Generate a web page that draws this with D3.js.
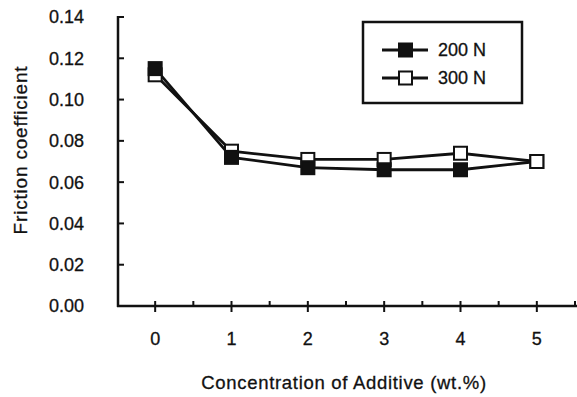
<!DOCTYPE html>
<html>
<head>
<meta charset="utf-8">
<script src="https://cdn.jsdelivr.net/npm/d3@7"></script>
<style>
  html, body { margin: 0; padding: 0; background: #fff; }
  text { font-family: "Liberation Sans", Arial, sans-serif; fill: #111; stroke: #111; stroke-width: 0.3px; }
</style>
</head>
<body>
<svg id="chart" width="577" height="397"></svg>
<script>
const concentrations = [0, 1, 2, 3, 4, 5];
const load200 = [0.115, 0.072, 0.067, 0.066, 0.066, 0.070];
const load300 = [0.112, 0.075, 0.071, 0.071, 0.074, 0.070];
const yTicks = [0, 0.02, 0.04, 0.06, 0.08, 0.10, 0.12, 0.14];
// which series' marker sits on top at each concentration
const frontSeries = ['200 N', '200 N', '200 N', '200 N', '200 N', '300 N'];

const svg = d3.select('#chart');

const x = d3.scaleLinear().domain([-0.5, 5.5]).range([117, 575]);
const y = d3.scaleLinear().domain([0, 0.14]).range([306, 17]);

// Y axis (ticks point inward)
const yAxis = svg.append('g').attr('transform', 'translate(118,0)');
yAxis.append('line')
  .attr('x1', 0).attr('x2', 0)
  .attr('y1', y(0.14) - 1).attr('y2', y(0) + 1)
  .attr('stroke', '#111').attr('stroke-width', 2.5);
yAxis.selectAll('.yt').data(yTicks).enter().append('line')
  .attr('x1', 0).attr('x2', 6)
  .attr('y1', d => y(d)).attr('y2', d => y(d))
  .attr('stroke', '#111').attr('stroke-width', 2);
svg.selectAll('.ylab').data(yTicks).enter().append('text')
  .attr('x', 84).attr('y', d => y(d))
  .attr('dy', '0.36em')
  .attr('text-anchor', 'end')
  .style('font-size', '18px')
  .text(d3.format('.2f'));

// X axis
const xAxis = svg.append('g').attr('transform', `translate(0,${y(0)})`);
xAxis.append('line')
  .attr('x1', 117).attr('x2', 577)
  .attr('y1', 0).attr('y2', 0)
  .attr('stroke', '#111').attr('stroke-width', 2.5);
xAxis.selectAll('.xt').data(concentrations).enter().append('line')
  .attr('x1', d => x(d)).attr('x2', d => x(d))
  .attr('y1', -5).attr('y2', 6)
  .attr('stroke', '#111').attr('stroke-width', 2);
xAxis.selectAll('.xm').data(d3.range(0.5, 6, 1)).enter().append('line')
  .attr('x1', d => x(d)).attr('x2', d => x(d))
  .attr('y1', -5).attr('y2', 0)
  .attr('stroke', '#111').attr('stroke-width', 2);
svg.selectAll('.xlab').data(concentrations).enter().append('text')
  .attr('x', d => x(d)).attr('y', 339)
  .attr('dy', '0.36em')
  .attr('text-anchor', 'middle')
  .style('font-size', '18px')
  .text(d => d);

// Axis titles
svg.append('text')
  .attr('transform', 'translate(20,150) rotate(-90)')
  .attr('text-anchor', 'middle')
  .attr('dy', '0.36em')
  .style('font-size', '19px')
  .style('letter-spacing', '0.8px')
  .text('Friction coefficient');
svg.append('text')
  .attr('x', 344).attr('y', 382)
  .attr('dy', '0.36em')
  .attr('text-anchor', 'middle')
  .style('font-size', '18.5px')
  .style('letter-spacing', '0.7px')
  .text('Concentration of Additive (wt.%)');

// Series
const series = [
  { name: '200 N', values: load200, fill: '#111' },
  { name: '300 N', values: load300, fill: '#fff' }
];

const line = d3.line()
  .x((d, i) => x(concentrations[i]))
  .y(d => y(d));

series.slice().reverse().forEach(s => {
  svg.append('path')
    .datum(s.values)
    .attr('fill', 'none')
    .attr('stroke', '#111')
    .attr('stroke-width', 2.8)
    .attr('d', line);
});

const markers = [];
series.forEach(s => s.values.forEach((v, i) => {
  markers.push({ i, v, fill: s.fill, front: frontSeries[i] === s.name });
}));
markers.sort((a, b) => a.front - b.front);

svg.selectAll('.marker').data(markers).enter().append('rect')
  .attr('x', d => x(concentrations[d.i]) - 6.5)
  .attr('y', d => y(d.v) - 6.5)
  .attr('width', 13).attr('height', 13)
  .attr('fill', d => d.fill)
  .attr('stroke', '#111')
  .attr('stroke-width', 2);

// Legend
const legend = svg.append('g');
legend.append('rect')
  .attr('x', 363).attr('y', 22)
  .attr('width', 159).attr('height', 81)
  .attr('fill', '#fff')
  .attr('stroke', '#111').attr('stroke-width', 2.5);
const items = legend.selectAll('.li').data(series).enter().append('g')
  .attr('transform', (d, i) => `translate(0,${50 + i * 28})`);
items.append('line')
  .attr('x1', 382).attr('x2', 428)
  .attr('stroke', '#111').attr('stroke-width', 2.8);
items.append('rect')
  .attr('x', 399).attr('y', -6.5)
  .attr('width', 13).attr('height', 13)
  .attr('fill', d => d.fill)
  .attr('stroke', '#111').attr('stroke-width', 2);
items.append('text')
  .attr('x', 438).attr('dy', '0.36em')
  .style('font-size', '18px')
  .text(d => d.name);
</script>
</body>
</html>
